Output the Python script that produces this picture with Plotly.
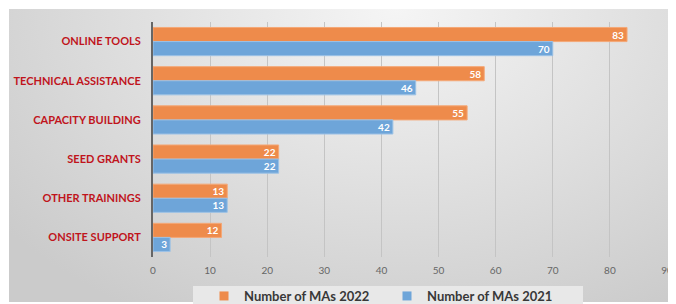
import plotly.graph_objects as go
import base64

categories = ["ONLINE TOOLS", "TECHNICAL ASSISTANCE", "CAPACITY BUILDING",
              "SEED GRANTS", "OTHER TRAININGS", "ONSITE SUPPORT"]
mas_2022 = [83, 58, 55, 22, 13, 12]
mas_2021 = [70, 46, 42, 22, 13, 3]
x_ticks = [0, 10, 20, 30, 40, 50, 60, 70, 80, 90]
series_names = ["Number of MAs 2022", "Number of MAs 2021"]
series_colors = ["#EE8B4B", "#6EA5D9"]

# page body has an 8px margin, so the figure is 8px smaller than the window
W, H = 668, 296
svg = f"""<svg xmlns='http://www.w3.org/2000/svg' width='{W}' height='{H}' viewBox='0 0 {W} {H}' preserveAspectRatio='none'>
<defs><radialGradient id='g' cx='0.58' cy='0.0' r='0.75' gradientTransform='translate(0.58,0) scale(1,1.6) translate(-0.58,0)'>
<stop offset='0' stop-color='#f5f5f5'/><stop offset='1' stop-color='#cbcbcb'/></radialGradient></defs>
<rect x='0' y='0' width='{W}' height='{H}' fill='url(#g)'/></svg>"""
bg_uri = "data:image/svg+xml;base64," + base64.b64encode(svg.encode()).decode()

label_font = dict(color="white", size=10, family="Lato", weight="bold")

fig = go.Figure()
for vals, name, col, edge in [(mas_2022, series_names[0], series_colors[0], "#F4A877"),
                              (mas_2021, series_names[1], series_colors[1], "#9CC2E6")]:
    fig.add_trace(go.Bar(
        y=categories, x=vals, orientation="h", name=name, showlegend=False,
        marker=dict(color=col, line=dict(color=edge, width=1)),
        text=vals, textposition="inside", insidetextanchor="end", textangle=0,
        textfont=label_font,
    ))
for name, col in zip(series_names, series_colors):
    fig.add_trace(go.Scatter(
        x=[None], y=[None], mode="markers", name=name, showlegend=True,
        marker=dict(symbol="square", size=9, color=col),
    ))

l, r, t, b = 145, 9, 14, 47
pw, ph = W - l - r, H - t - b

fig.update_layout(
    width=W, height=H,
    margin=dict(l=l, r=r, t=t, b=b, autoexpand=False),
    paper_bgcolor="white",
    plot_bgcolor="rgba(0,0,0,0)",
    barmode="group", bargap=0.28, bargroupgap=0,
    showlegend=True,
    legend=dict(
        orientation="h", x=(196 - l) / pw, xanchor="left",
        y=(H - b - 273) / ph, yanchor="top",
        bgcolor="rgba(0,0,0,0)", entrywidth=138, entrywidthmode="pixels",
        font=dict(family="Lato", size=13, color="#383838", weight="bold"),
        itemwidth=30, traceorder="normal",
    ),
    images=[dict(
        source=bg_uri, xref="paper", yref="paper",
        x=(1 - l) / pw, y=1 + (t - 1) / ph,
        sizex=(W - 1) / pw, sizey=(H - 3) / ph,
        xanchor="left", yanchor="top", sizing="stretch", layer="below",
    )],
    shapes=[dict(
        type="rect", xref="paper", yref="paper", layer="below",
        x0=(185 - l) / pw, x1=(575 - l) / pw,
        y0=(H - b - 278) / ph, y1=(H - b - 296) / ph,
        fillcolor="#e8e8e8", line=dict(width=0),
    )],
    xaxis=dict(
        range=[0, 90], tickvals=x_ticks, showgrid=True, gridcolor="#c4c4c4",
        gridwidth=1, zeroline=False, showline=False, automargin=False,
        tickfont=dict(family="Lato", size=10, color="#666666"),
        ticks="", ticklabelstandoff=6, ticklabeloverflow="allow",
    ),
    yaxis=dict(
        autorange="reversed", showgrid=False, ticks="", automargin=False,
        tickfont=dict(family="Lato", size=11, color="#C0141C", weight="bold"),
        showline=True, linecolor="#666666", linewidth=2, ticklabelstandoff=8,
    ),
    uniformtext=dict(minsize=8, mode="show"),
)

fig.write_html("out.html")
